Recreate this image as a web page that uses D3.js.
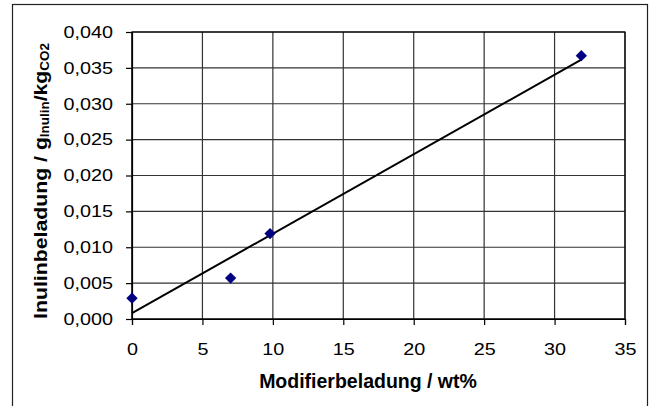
<!DOCTYPE html>
<html>
<head>
<meta charset="utf-8">
<script src="https://cdn.jsdelivr.net/npm/d3@7"></script>
<style>
  body { margin: 0; background: #fff; }
  svg { display: block; }
  text { font-family: "Liberation Sans", Arial, sans-serif; fill: #000; }
</style>
</head>
<body>
<div id="chart"></div>
<script>
// data
const modifier = [0, 7, 9.8, 31.9];          // wt%
const inulin = [0.0029, 0.0057, 0.0119, 0.0367]; // g/kg
const xTicks = [0, 5, 10, 15, 20, 25, 30, 35];
const yTicks = [0, 0.005, 0.01, 0.015, 0.02, 0.025, 0.03, 0.035, 0.04];

const width = 650;
const height = 406;
const margin = { top: 32, right: 25, bottom: 87, left: 132 };
const stretch = 1.2; // labels in the picture are a bit wide

const svg = d3.select('#chart').append('svg')
  .attr('width', width)
  .attr('height', height);

// outer frame
svg.append('rect')
  .attr('x', 12.5).attr('y', 4.5)
  .attr('width', 635).attr('height', 430)
  .attr('fill', 'none')
  .attr('stroke', '#222')
  .attr('stroke-width', 1.2);

const x = d3.scaleLinear().domain([0, 35]).range([margin.left, width - margin.right]);
const y = d3.scaleLinear().domain([0, 0.04]).range([height - margin.bottom, margin.top]);

const de = d3.formatLocale({ decimal: ',', thousands: '.', grouping: [3], currency: ['', '€'] });

// grid
const grid = svg.append('g');
grid.selectAll('.gx').data(xTicks).enter().append('line')
  .attr('x1', (d) => x(d)).attr('x2', (d) => x(d))
  .attr('y1', y(0)).attr('y2', y(0.04))
  .attr('stroke', '#333').attr('stroke-width', 1.2);
grid.selectAll('.gy').data(yTicks).enter().append('line')
  .attr('x1', x(0)).attr('x2', x(35))
  .attr('y1', (d) => y(d)).attr('y2', (d) => y(d))
  .attr('stroke', '#333').attr('stroke-width', 1.2);

// axes
const xAxis = svg.append('g')
  .attr('transform', `translate(0,${y(0)})`)
  .call(d3.axisBottom(x).tickValues(xTicks).tickSize(6).tickPadding(18).tickFormat(d3.format('d')));
const yAxis = svg.append('g')
  .attr('transform', `translate(${x(0)},0)`)
  .call(d3.axisLeft(y).tickValues(yTicks).tickSize(6).tickFormat(de.format('.3f')));

[xAxis, yAxis].forEach((ax) => {
  ax.select('.domain').attr('stroke', '#000').attr('stroke-width', 1.2);
  ax.selectAll('.tick line').attr('stroke', '#000').attr('stroke-width', 1.2);
  ax.selectAll('text')
    .attr('font-size', 16.5)
    .attr('font-family', '"Liberation Sans", Arial, sans-serif')
    .attr('fill', '#000')
    .attr('transform', `scale(${stretch},1)`);
});
yAxis.selectAll('text').attr('x', -19 / stretch);

// plot border (top and right)
svg.append('rect')
  .attr('x', x(0)).attr('y', y(0.04))
  .attr('width', x(35) - x(0)).attr('height', y(0) - y(0.04))
  .attr('fill', 'none').attr('stroke', '#000').attr('stroke-width', 1.2);

// linear trend line from the points
const n = modifier.length;
const mx = d3.mean(modifier);
const my = d3.mean(inulin);
let sxy = 0;
let sxx = 0;
for (let i = 0; i < n; i += 1) {
  sxy += (modifier[i] - mx) * (inulin[i] - my);
  sxx += (modifier[i] - mx) ** 2;
}
const slope = sxy / sxx;
const icpt = my - slope * mx;
const xEnds = [0, d3.max(modifier)];
svg.append('path')
  .datum(xEnds)
  .attr('d', d3.line().x((d) => x(d)).y((d) => y(icpt + slope * d)))
  .attr('fill', 'none')
  .attr('stroke', '#000')
  .attr('stroke-width', 2);

// markers
svg.selectAll('.pt').data(modifier).enter().append('path')
  .attr('d', d3.symbol(d3.symbolSquare, 64)())
  .attr('transform', (d, i) => `translate(${x(d)},${y(inulin[i])}) rotate(45)`)
  .attr('fill', '#000080');

// x title
svg.append('text')
  .attr('x', 368).attr('y', 388)
  .attr('text-anchor', 'middle')
  .attr('font-size', 19.5)
  .attr('font-weight', 'bold')
  .text('Modifierbeladung / wt%');

// y title with subscripts
const yt = svg.append('text')
  .attr('text-anchor', 'middle')
  .attr('font-size', 19)
  .attr('font-weight', 'bold');
yt.append('tspan').text('Inulinbeladung / g');
yt.append('tspan').attr('font-size', 12).attr('dy', 2).text('Inulin');
yt.append('tspan').attr('dy', -2).text('/kg');
yt.append('tspan').attr('font-size', 12).attr('dy', 2).text('CO2');
const len = yt.node().getComputedTextLength();
yt.attr('transform', `translate(47,181) rotate(-90) scale(${276 / len},1)`);
</script>
</body>
</html>
